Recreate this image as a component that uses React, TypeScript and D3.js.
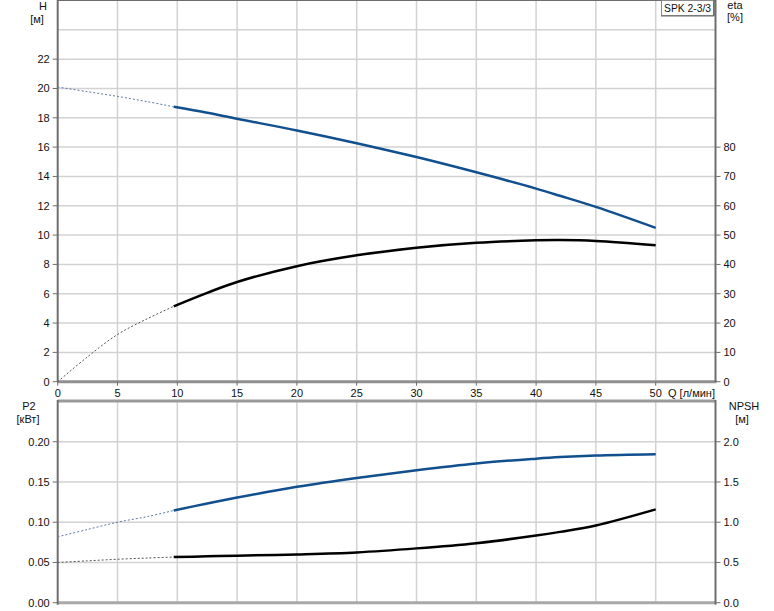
import React from "react";
import * as d3 from "d3";

// ---------- data ----------
const qDashed = [0, 2.5, 5, 7.5, 9.7];
const qSolid = [9.7, 12.5, 15, 20, 25, 30, 35, 40, 42, 45, 50];

const hDashed = [20.1, 19.78, 19.46, 19.1, 18.75];
const hSolid = [18.75, 18.34, 17.93, 17.14, 16.27, 15.32, 14.28, 13.17, 12.68, 11.92, 10.49];

const etaDashed = [0, 8.5, 16.1, 21.5, 25.7];
const etaSolid = [25.7, 30.3, 34.0, 39.4, 43.1, 45.7, 47.4, 48.2, 48.3, 48.0, 46.5];

const p2Dashed = [0.0819, 0.091, 0.1, 0.107, 0.1146];
const p2Solid = [0.1146, 0.1233, 0.1306, 0.144, 0.155, 0.1646, 0.173, 0.179, 0.181, 0.183, 0.1846];

const npshDashed = [0.5, 0.52, 0.54, 0.555, 0.567];
const npshSolid = [0.567, 0.576, 0.584, 0.6, 0.625, 0.675, 0.74, 0.834, 0.88, 0.96, 1.16];

const qTicks = [0, 5, 10, 15, 20, 25, 30, 35, 40, 45, 50];
const qGrid = [5, 10, 15, 20, 25, 30, 35, 40, 45, 50];
const hTicks = [0, 2, 4, 6, 8, 10, 12, 14, 16, 18, 20, 22];
const hGrid = [2, 4, 6, 8, 10, 12, 14, 16, 18, 20, 22, 24];
const etaTicks = [0, 10, 20, 30, 40, 50, 60, 70, 80];
const p2Ticks = [0, 0.05, 0.1, 0.15, 0.2];
const npshTicks = [0, 0.5, 1.0, 1.5, 2.0];

const FONT = "'Liberation Sans', Arial, sans-serif";
const BLUE = "#114f8e";
const GRID = "#d2d2d2";
const AXIS = "#6e6e6e";

export default function App() {
  const x = d3.scaleLinear().domain([0, 55]).range([57.7, 715.5]);
  const yH = d3.scaleLinear().domain([0, 26]).range([381.7, 0.5]);
  const yEta = d3.scaleLinear().domain([0, 130]).range([381.7, 0.5]);
  const yP2 = d3.scaleLinear().domain([0, 0.25]).range([602.7, 401.5]);
  const yN = d3.scaleLinear().domain([0, 2.5]).range([602.7, 401.5]);

  const mk = (ys: number[], ysc: d3.ScaleLinear<number, number>, qs: number[]) =>
    d3
      .line<number>()
      .x((_, i) => x(qs[i]))
      .y((d) => ysc(d))
      .curve(d3.curveCatmullRom.alpha(0.5))(ys) || "";

  const left = x(0);
  const right = x(55);
  const topT = 0.5;
  const botT = yH(0);
  const topB = 400;
  const botB = yP2(0);

  const txt = { fontFamily: FONT, fontSize: 11, fill: "#111" } as const;

  return (
    <svg
      width={774}
      height={611}
      style={{ position: "absolute", left: 0, top: 0, background: "#fff" }}
    >
      <rect x={0} y={0} width={774} height={611} fill="#fff" />
      {/* ---------- top panel grid ---------- */}
      {qGrid.map((q) => (
        <line key={"vt" + q} x1={x(q)} x2={x(q)} y1={topT} y2={botT} stroke={GRID} strokeWidth={1.5} />
      ))}
      {hGrid.map((h) => (
        <line key={"ht" + h} x1={left} x2={right} y1={yH(h)} y2={yH(h)} stroke={GRID} strokeWidth={1.5} />
      ))}
      {/* ---------- bottom panel grid ---------- */}
      {qGrid.map((q) => (
        <line key={"vb" + q} x1={x(q)} x2={x(q)} y1={topB} y2={botB} stroke={GRID} strokeWidth={1.5} />
      ))}
      {p2Ticks.slice(1).map((p) => (
        <line key={"hb" + p} x1={left} x2={right} y1={yP2(p)} y2={yP2(p)} stroke={GRID} strokeWidth={1.5} />
      ))}

      {/* ---------- axes top ---------- */}
      <line x1={left} x2={right} y1={0.5} y2={0.5} stroke={AXIS} strokeWidth={1} />
      <line x1={left} x2={right + 1} y1={botT} y2={botT} stroke="#8f8f8f" strokeWidth={3} />
      <line x1={left} x2={left} y1={0} y2={botT} stroke={AXIS} strokeWidth={2} />
      <line x1={right} x2={right} y1={0} y2={botT} stroke={AXIS} strokeWidth={2} />
      {hTicks.map((h) => (
        <g key={"hl" + h}>
          <line x1={left - 5} x2={left} y1={yH(h)} y2={yH(h)} stroke={AXIS} strokeWidth={1} />
          <text x={left - 8} y={yH(h) + 4} textAnchor="end" {...txt}>
            {h}
          </text>
        </g>
      ))}
      {etaTicks.map((e) => (
        <g key={"el" + e}>
          <line x1={right} x2={right + 5} y1={yEta(e)} y2={yEta(e)} stroke={AXIS} strokeWidth={1} />
          <text x={right + 8} y={yEta(e) + 4} textAnchor="start" {...txt}>
            {e}
          </text>
        </g>
      ))}
      {qTicks.map((q) => (
        <g key={"ql" + q}>
          <line x1={x(q)} x2={x(q)} y1={botT} y2={botT + 4} stroke={AXIS} strokeWidth={1} />
          <text x={x(q)} y={botT + 15} textAnchor="middle" {...txt}>
            {q}
          </text>
        </g>
      ))}
      <text x={668} y={botT + 15} {...txt}>
        Q [л/мин]
      </text>
      <text x={43} y={10} textAnchor="middle" {...txt}>
        H
      </text>
      <text x={37} y={23} textAnchor="middle" {...txt}>
        [м]
      </text>
      <text x={735} y={9} textAnchor="middle" {...txt}>
        eta
      </text>
      <text x={735} y={21} textAnchor="middle" {...txt}>
        [%]
      </text>

      {/* ---------- axes bottom ---------- */}
      <line x1={left} x2={right} y1={topB + 1} y2={topB + 1} stroke="#9a9a9a" strokeWidth={3} />
      <line x1={left} x2={right} y1={botB} y2={botB} stroke="#a8a8a8" strokeWidth={3} />
      <line x1={left} x2={left} y1={topB} y2={botB + 2} stroke={AXIS} strokeWidth={2} />
      <line x1={right} x2={right} y1={topB} y2={botB + 2} stroke={AXIS} strokeWidth={2} />
      {p2Ticks.map((p) => (
        <g key={"pl" + p}>
          <line x1={left - 5} x2={left} y1={yP2(p)} y2={yP2(p)} stroke={AXIS} strokeWidth={1} />
          <text x={left - 8} y={yP2(p) + 4} textAnchor="end" {...txt}>
            {p.toFixed(2)}
          </text>
        </g>
      ))}
      {npshTicks.map((n) => (
        <g key={"nl" + n}>
          <line x1={right} x2={right + 5} y1={yN(n)} y2={yN(n)} stroke={AXIS} strokeWidth={1} />
          <text x={right + 8} y={yN(n) + 4} textAnchor="start" {...txt}>
            {n.toFixed(1)}
          </text>
        </g>
      ))}
      <text x={29} y={410} textAnchor="middle" {...txt}>
        P2
      </text>
      <text x={28} y={423} textAnchor="middle" {...txt}>
        [кВт]
      </text>
      <text x={744} y={410} textAnchor="middle" {...txt}>
        NPSH
      </text>
      <text x={742} y={423} textAnchor="middle" {...txt}>
        [м]
      </text>

      {/* ---------- curves ---------- */}
      <path d={mk(hDashed, yH, qDashed)} fill="none" stroke="#5d7aa3" strokeWidth={1} strokeDasharray="2,2" />
      <path d={mk(hSolid, yH, qSolid)} fill="none" stroke={BLUE} strokeWidth={2.5} />
      <path d={mk(etaDashed, yEta, qDashed)} fill="none" stroke="#555" strokeWidth={1} strokeDasharray="2,2" />
      <path d={mk(etaSolid, yEta, qSolid)} fill="none" stroke="#000" strokeWidth={2.5} />
      <path d={mk(p2Dashed, yP2, qDashed)} fill="none" stroke="#5d7aa3" strokeWidth={1} strokeDasharray="2,2" />
      <path d={mk(p2Solid, yP2, qSolid)} fill="none" stroke={BLUE} strokeWidth={2.5} />
      <path d={mk(npshDashed, yN, qDashed)} fill="none" stroke="#555" strokeWidth={1} strokeDasharray="2,2" />
      <path d={mk(npshSolid, yN, qSolid)} fill="none" stroke="#000" strokeWidth={2.5} />

      {/* ---------- label box ---------- */}
      <rect x={661.5} y={0.5} width={52} height={15} fill="#fff" stroke="#8a8a8a" strokeWidth={1} />
      <line x1={714} x2={714} y1={0} y2={16} stroke="#6a6a6a" strokeWidth={1.5} />
      <line x1={661} x2={714} y1={16} y2={16} stroke="#6a6a6a" strokeWidth={1} />
      <text x={664} y={12} textLength={47} lengthAdjust="spacingAndGlyphs" {...txt}>
        SPK 2-3/3
      </text>
    </svg>
  );
}
